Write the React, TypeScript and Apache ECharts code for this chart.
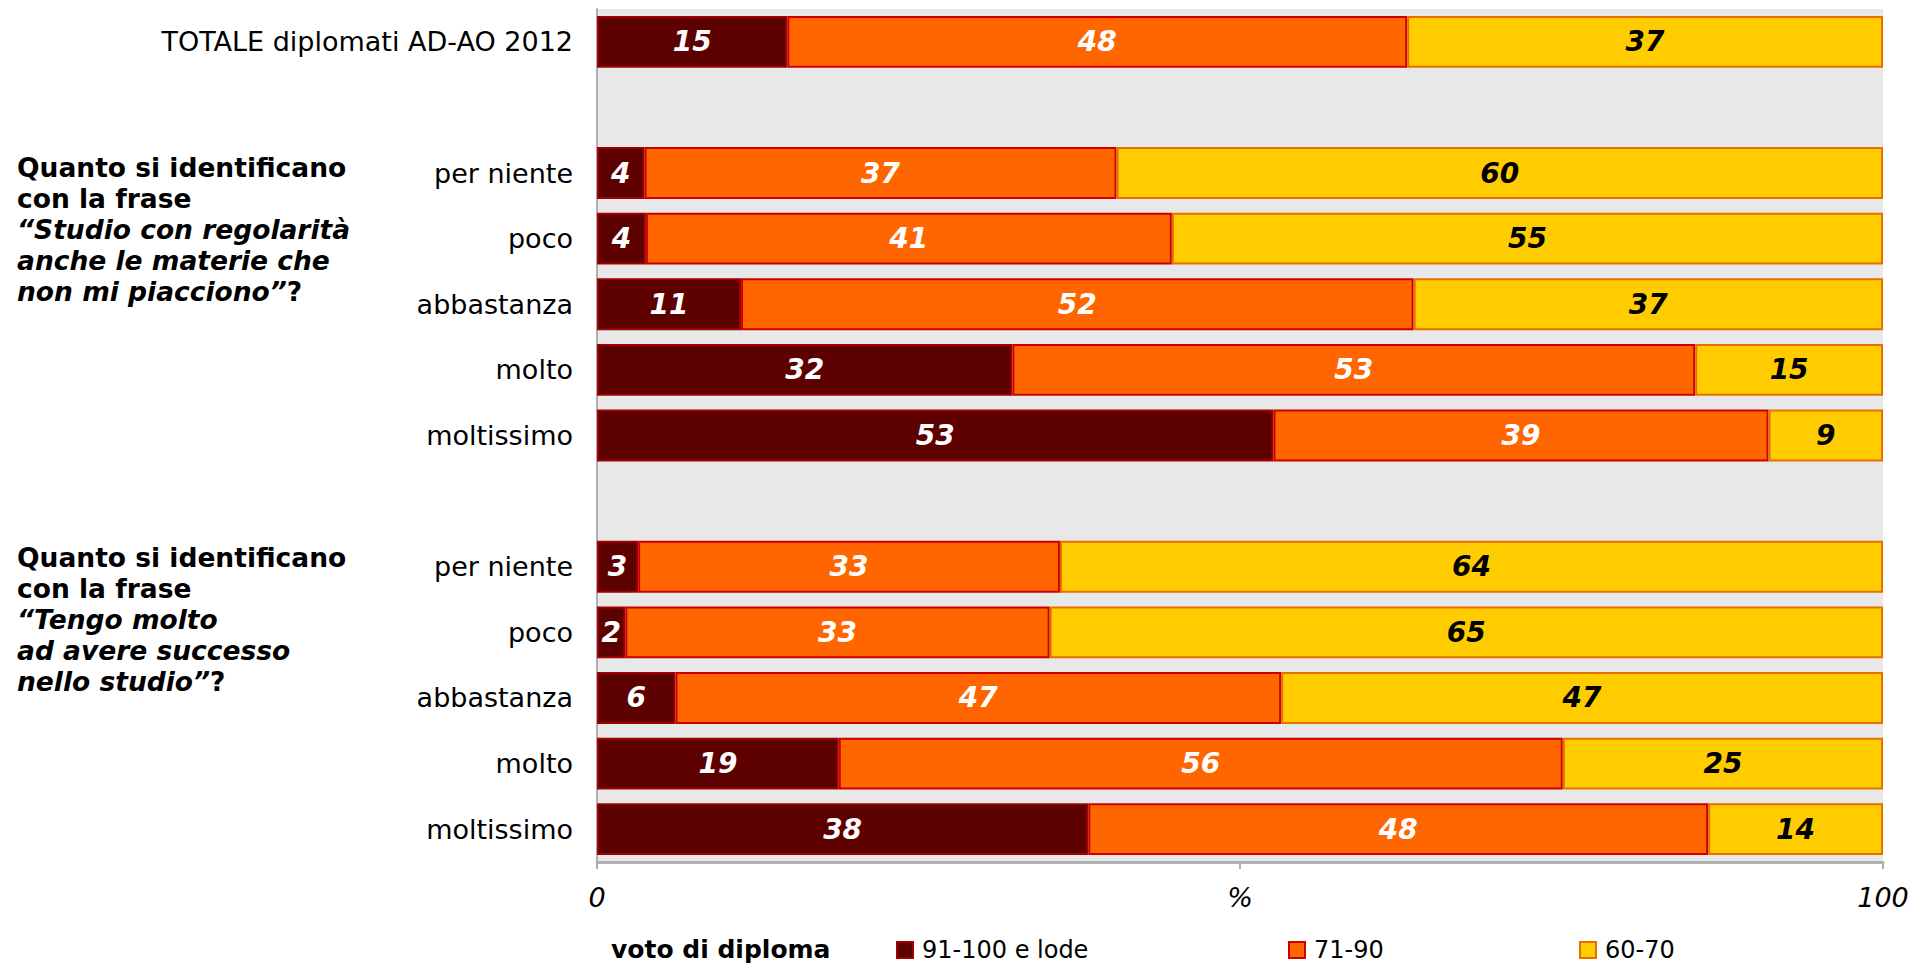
import React, { useEffect, useRef } from 'react';
import * as echarts from 'echarts';

// ---- data ----
const categories = [
  'TOTALE diplomati AD-AO 2012',
  '',
  'per niente',
  'poco',
  'abbastanza',
  'molto',
  'moltissimo',
  ' ',
  'per niente',
  'poco',
  'abbastanza',
  'molto',
  'moltissimo',
];
const seriesNames = ['91-100 e lode', '71-90', '60-70'];
const votoAlto = [14.8, '-', 3.7, 3.8, 11.2, 32.3, 52.6, '-', 3.2, 2.2, 6.1, 18.8, 38.2];
const votoMedio = [48.2, '-', 36.7, 40.9, 52.3, 53.1, 38.5, '-', 32.8, 33.0, 47.1, 56.3, 48.2];
const votoBasso = [37.0, '-', 59.6, 55.3, 36.5, 14.6, 8.9, '-', 64.0, 64.8, 46.8, 24.9, 13.6];
const xTickValues = [0, 50, 100];
const xTickLabels = ['0', '%', '100'];
const legendTitle = 'voto di diploma';
const groupTitle1 = [
  '{b|Quanto si identificano}',
  '{b|con la frase}',
  '{bi|“Studio con regolarità}',
  '{bi|anche le materie che}',
  '{bi|non mi piacciono”}{b|?}',
];
const groupTitle2 = [
  '{b|Quanto si identificano}',
  '{b|con la frase}',
  '{bi|“Tengo molto}',
  '{bi|ad avere successo}',
  '{bi|nello studio”}{b|?}',
];

const FONT = 'DejaVu Sans';
const colors = ['#5C0000', '#FF6600', '#FFCC00'];
const borders = ['#A00000', '#CC0000', '#E87000'];
const labelColors = ['#FFFFFF', '#FFFFFF', '#000000'];
const legendLefts = [896, 1288, 1579];

export default function App() {
  const ref = useRef<HTMLDivElement>(null);

  useEffect(() => {
    if (!ref.current) return;
    const chart = echarts.init(ref.current, undefined, { renderer: 'svg' });
    const dataSets = [votoAlto, votoMedio, votoBasso];

    const rich = {
      b: { fontFamily: FONT, fontWeight: 'bold', fontSize: 26.5, lineHeight: 31, fill: '#000', color: '#000' },
      bi: { fontFamily: FONT, fontWeight: 'bold', fontStyle: 'italic', fontSize: 26.5, lineHeight: 31, fill: '#000', color: '#000' },
    };

    chart.setOption({
      animation: false,
      backgroundColor: '#FFFFFF',
      grid: {
        left: 597,
        right: 30,
        top: 9,
        bottom: 102,
        show: true,
        backgroundColor: '#E8E8E8',
        borderWidth: 0,
        containLabel: false,
      },
      xAxis: {
        type: 'value',
        min: 0,
        max: 100,
        interval: 50,
        splitLine: { show: false },
        axisLine: { show: true, lineStyle: { color: '#B0B0B0', width: 3 } },
        axisTick: { show: true, length: 7, lineStyle: { color: '#B0B0B0', width: 2 } },
        axisLabel: {
          margin: 22,
          fontFamily: FONT,
          fontStyle: 'italic',
          fontSize: 27,
          color: '#000',
          formatter: (v: number) => {
            const i = xTickValues.indexOf(v);
            return i >= 0 ? xTickLabels[i] : '';
          },
        },
      },
      yAxis: {
        type: 'category',
        inverse: true,
        data: categories,
        axisTick: { show: false },
        axisLine: { show: true, lineStyle: { color: '#B0B0B0', width: 2 } },
        axisLabel: {
          margin: 24,
          fontFamily: FONT,
          fontSize: 27,
          color: '#000',
        },
      },
      legend: seriesNames.map((n, i) => ({
        data: [n],
        left: legendLefts[i],
        top: 938,
        padding: 0,
        icon: 'path://M0,0h16v16h-16z',
        itemWidth: 24,
        itemHeight: 16,
        selectedMode: false,
        textStyle: { fontFamily: FONT, fontSize: 24, color: '#000' },
      })),
      graphic: [
        {
          type: 'text',
          left: 611,
          top: 937,
          style: {
            text: legendTitle,
            font: `bold 25px "${FONT}"`,
            fill: '#000',
          },
        },
        {
          type: 'text',
          left: 17,
          top: 154,
          style: { text: groupTitle1.join('\n'), rich, fill: '#000' },
        },
        {
          type: 'text',
          left: 17,
          top: 544,
          style: { text: groupTitle2.join('\n'), rich, fill: '#000' },
        },
      ],
      series: seriesNames.map((name, i) => ({
        name,
        type: 'bar',
        stack: 'total',
        barWidth: '79%',
        data: dataSets[i],
        itemStyle: { color: colors[i], borderColor: borders[i], borderWidth: 2 },
        label: {
          show: true,
          position: 'inside',
          fontFamily: FONT,
          fontWeight: 'bold',
          fontStyle: 'italic',
          fontSize: 28,
          color: labelColors[i],
          formatter: (p: any) => String(Math.round(p.value)),
        },
      })),
    });

    return () => chart.dispose();
  }, []);

  return (
    <div
      ref={ref}
      style={{ position: 'fixed', left: 0, top: 0, width: 1913, height: 964, background: '#fff' }}
    />
  );
}
